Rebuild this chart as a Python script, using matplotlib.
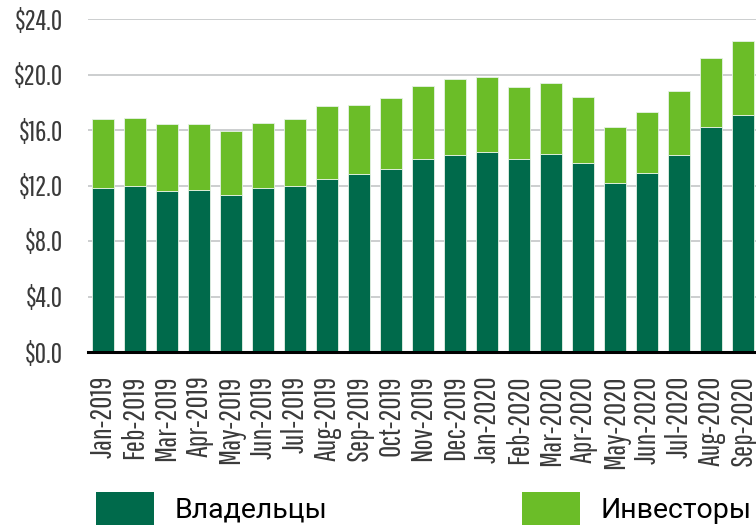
import numpy as np
import matplotlib.pyplot as plt
from matplotlib.patches import Patch

months = ['Jan-2019', 'Feb-2019', 'Mar-2019', 'Apr-2019', 'May-2019', 'Jun-2019',
          'Jul-2019', 'Aug-2019', 'Sep-2019', 'Oct-2019', 'Nov-2019', 'Dec-2019',
          'Jan-2020', 'Feb-2020', 'Mar-2020', 'Apr-2020', 'May-2020', 'Jun-2020',
          'Jul-2020', 'Aug-2020', 'Sep-2020']
owners = [11.8, 12.0, 11.6, 11.7, 11.3, 11.8, 12.0, 12.5, 12.8, 13.2, 13.9, 14.2,
          14.4, 13.9, 14.3, 13.6, 12.2, 12.9, 14.2, 16.2, 17.1]
totals = [16.8, 16.9, 16.4, 16.4, 15.9, 16.5, 16.8, 17.7, 17.8, 18.3, 19.2, 19.7,
          19.8, 19.1, 19.4, 18.4, 16.2, 17.3, 18.8, 21.2, 22.4]
investors = [t - o for t, o in zip(totals, owners)]
yticks = [0, 4, 8, 12, 16, 20, 24]

dark = '#006A4B'
light = '#6BBD28'
narrow = ['Pathway Gothic One', 'DejaVu Sans']

fig = plt.figure(figsize=(7.56, 5.27), dpi=100)
ax = fig.add_axes([88/756, 175/527, 1 - 88/756, (352 - 19)/527])

x = np.arange(len(months))
ax.bar(x, owners, width=0.69, color=dark, edgecolor='#E6F2E6', linewidth=0.6, zorder=3)
ax.bar(x, investors, width=0.69, bottom=owners, color=light, edgecolor='#E6F2E6',
       linewidth=0.6, zorder=3)

ax.set_xlim(-0.47, 20.4)
ax.set_ylim(0, 24)
ax.set_yticks(yticks)
ax.set_yticklabels([f'${v:.1f}' for v in yticks], family=narrow, fontsize=20, color='#3a3a3a')
ax.set_xticks(x)
ax.set_xticklabels(months, rotation=90, family=narrow, fontsize=21.5, color='#3a3a3a')
ax.tick_params(axis='y', length=0, pad=18)
ax.tick_params(axis='x', length=0, pad=17)

ax.grid(axis='y', color='#C8CACC', linewidth=1.3, zorder=0)
for s in ['left', 'right', 'top']:
    ax.spines[s].set_visible(False)
ax.spines['bottom'].set_color('black')
ax.spines['bottom'].set_linewidth(2.2)
ax.spines['bottom'].set_zorder(4)

leg_kw = dict(loc='upper left', frameon=False, handlelength=2.05,
              handleheight=1.4, handletextpad=0.7, borderpad=0, borderaxespad=0,
              prop={'family': 'Roboto', 'size': 20.5})
fig.legend(handles=[Patch(facecolor=dark)], labels=['Владельцы'],
           bbox_to_anchor=(96/756, 1 - 492/527), **leg_kw)
fig.legend(handles=[Patch(facecolor=light)], labels=['Инвесторы'],
           bbox_to_anchor=(522/756, 1 - 492/527), **leg_kw)

fig.savefig('out.png', dpi=100)
